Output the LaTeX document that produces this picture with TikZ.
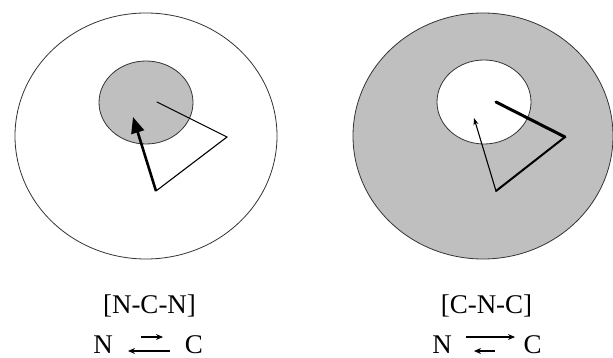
\documentclass[tikz,border=0pt]{standalone}
\usepackage{fontspec}
\setmainfont{Liberation Serif}
\usetikzlibrary{arrows.meta}

\begin{document}
\begin{tikzpicture}[x=1pt,y=-1pt,
  rim/.style={draw=black!80,line width=0.8pt},
  shade/.style={fill=black!25},
  leg/.style={line width=1.1pt,line cap=round},
  formula/.style={font=\fontsize{27}{30}\selectfont,inner sep=0pt,anchor=base},
  eq/.style={-{Stealth[length=7pt,width=6pt]},line width=1.2pt}]
  \useasboundingbox (0,0) rectangle (613,358);

  % Left disc
  \draw[rim,fill=white] (146,136) ellipse [x radius=131,y radius=123];
  \draw[rim,shade] (146,102.5) ellipse [x radius=47,y radius=41.5];

  % Left triangle
  \coordinate (la) at (157,102);
  \coordinate (lb) at (227,137);
  \coordinate (lc) at (156,191);
  \coordinate (lt) at (133,117);
  \draw[leg] (la) -- (lb);
  \draw[leg] (lb) -- (lc);
  \draw[line width=2.6pt,-{Triangle[length=16pt,width=13pt]}] (lc) -- (lt);

  % Right disc
  \draw[rim,shade] (483,136) ellipse [x radius=130,y radius=123];
  \draw[rim,fill=white] (484,102) ellipse [x radius=47,y radius=42];

  % Right triangle
  \coordinate (ra) at (496,102);
  \coordinate (rb) at (565,137);
  \coordinate (rc) at (496,191);
  \coordinate (rt) at (474,118);
  \draw[line width=3pt,line cap=round] (ra) -- (rb);
  \draw[line width=2pt,line cap=round] (rb) -- (rc);
  \draw[leg,-{Stealth[length=7pt,width=5pt]}] (rc) -- (rt);

  % Left labels
  \node[formula] (ncn) at (149.5,313) {[N-C-N]};
  \node[formula] (nl) at (103,353) {N};
  \node[formula] (cl) at (194,353) {C};
  \coordinate (l1) at (141,337);
  \coordinate (l2) at (163,337);
  \coordinate (l3) at (170,351);
  \coordinate (l4) at (128,351);
  \draw[eq] (l1) -- (l2);
  \draw[eq,line width=1.6pt] (l3) -- (l4);

  % Right labels
  \node[formula] (cnc) at (486.5,313) {[C-N-C]};
  \node[formula] (nr) at (442,353) {N};
  \node[formula] (cr) at (532.5,353) {C};
  \coordinate (r1) at (466,337);
  \coordinate (r2) at (515,337);
  \coordinate (r3) at (495,351);
  \coordinate (r4) at (474,351);
  \draw[eq] (r1) -- (r2);
  \draw[eq,line width=1.6pt] (r3) -- (r4);
\end{tikzpicture}
\end{document}
